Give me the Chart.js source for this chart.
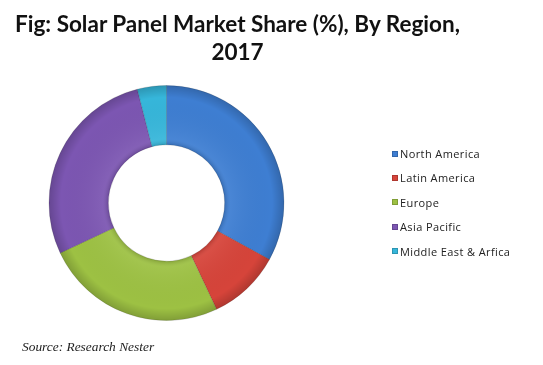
<!DOCTYPE html>
<html>
<head>
<meta charset="utf-8">
<script src="https://cdn.jsdelivr.net/npm/chart.js@4/dist/chart.umd.min.js"></script>
<style>
  html, body { margin: 0; padding: 0; background: #fff; }
  #wrap { position: relative; width: 543px; height: 365px; overflow: hidden; background: #fff; }
  #c { position: absolute; left: 0; top: 0; }
  #title { position: absolute; left: 0; top: 10px; width: 475px; text-align: center;
           font-family: Lato, "Open Sans", sans-serif; font-weight: bold; font-size: 22.5px;
           line-height: 28px; color: #111; }
  #legend { position: absolute; left: 392px; top: 146px; margin: 0; padding: 0; list-style: none;
            font-family: "Open Sans", sans-serif; font-size: 11px; letter-spacing: 0.4px; color: #222; }
  #legend li { display: flex; align-items: center; height: 15px; margin-bottom: 9.4px; }
  #legend .box { width: 6px; height: 6px; margin-right: 2px; display: inline-block; box-shadow: inset 0 0 0 1px rgba(0,0,0,0.18); }
  #source { position: absolute; left: 22px; top: 339px; font-family: "Liberation Serif", "DejaVu Serif", serif;
            font-style: italic; font-size: 13.4px; color: #222; }
</style>
</head>
<body>
<div id="wrap">
  <canvas id="c" width="543" height="365"></canvas>
  <div id="title">Fig: Solar Panel Market Share (%), By Region,<br>2017</div>
  <ul id="legend"></ul>
  <div id="source">Source: Research Nester</div>
</div>
<script>
const regions = ["North America", "Latin America", "Europe", "Asia Pacific", "Middle East & Arfica"];
const shares = [33, 10, 25, 28, 4];
const sliceColors = ["#3E7ED2", "#D6443A", "#9DC143", "#7C56B2", "#36B6DA"];

// subtle bevel shading over the ring, using the arc geometry from the library
const bevel = {
  id: "bevel",
  afterDatasetsDraw(chart) {
    const arc = chart.getDatasetMeta(0).data[0];
    if (!arc) return;
    const { x, y, innerRadius: ri, outerRadius: ro } = arc.getProps(["x", "y", "innerRadius", "outerRadius"], true);
    const c = chart.ctx;
    const g = c.createRadialGradient(x, y, ri, x, y, ro);
    g.addColorStop(0, "rgba(0,0,0,0.14)");
    g.addColorStop(0.1, "rgba(255,255,255,0.06)");
    g.addColorStop(0.8, "rgba(0,0,0,0)");
    g.addColorStop(1, "rgba(0,0,0,0.18)");
    c.save();
    c.beginPath();
    c.arc(x, y, ro, 0, Math.PI * 2);
    c.arc(x, y, ri, 0, Math.PI * 2, true);
    c.fillStyle = g;
    c.fill();
    c.restore();
  }
};

const ctx = document.getElementById("c");
const chart = new Chart(ctx, {
  type: "doughnut",
  data: {
    labels: regions,
    datasets: [{
      data: shares,
      backgroundColor: sliceColors,
      borderColor: "rgba(0,0,0,0.14)",
      borderWidth: 1
    }]
  },
  options: {
    responsive: false,
    animation: false,
    cutout: "49.5%",
    layout: { padding: { left: 48, right: 258, top: 85, bottom: 44 } },
    plugins: {
      legend: { display: false },
      title: { display: false },
      tooltip: { enabled: false }
    }
  },
  plugins: [bevel]
});

const ul = document.getElementById("legend");
chart.options.plugins.legend.labels.generateLabels(chart).forEach(item => {
  const li = document.createElement("li");
  const box = document.createElement("span");
  box.className = "box";
  box.style.background = item.fillStyle;
  const txt = document.createElement("span");
  txt.textContent = item.text;
  li.appendChild(box);
  li.appendChild(txt);
  ul.appendChild(li);
});
</script>
</body>
</html>
